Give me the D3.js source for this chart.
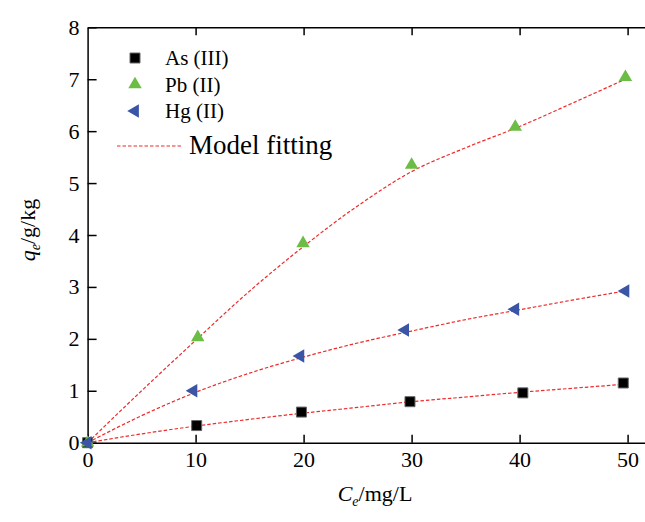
<!DOCTYPE html>
<html>
<head>
<meta charset="utf-8">
<script src="https://cdn.jsdelivr.net/npm/d3@7"></script>
<style>
  body { margin: 0; background: #fff; }
  svg text { font-family: 'Liberation Serif', 'Times New Roman', Times, serif; }
</style>
</head>
<body>
<div id="chart"></div>
<script>
// measured points (Ce in mg/L, qe in g/kg)
let asX = [0, 10.1, 19.8, 29.85, 40.3, 49.6];
let asY = [0, 0.33, 0.59, 0.79, 0.96, 1.15];
let pbX = [0, 10.2, 19.95, 30.0, 39.6, 49.8];
let pbY = [0, 2.03, 3.84, 5.35, 6.08, 7.04];
let hgX = [0, 9.8, 19.7, 29.4, 39.6, 49.8];
let hgY = [0, 1.0, 1.67, 2.17, 2.57, 2.92];

// model fitting curves
let fitX = [0, 5, 10, 15, 20, 25, 30, 35, 40, 45, 50];
let asFit = [0, 0.17, 0.32, 0.45, 0.57, 0.68, 0.79, 0.88, 0.97, 1.05, 1.13];
let pbFit = [0, 1.0, 1.97, 2.92, 3.78, 4.56, 5.22, 5.68, 6.09, 6.55, 7.02];
let hgFit = [0, 0.52, 0.97, 1.34, 1.65, 1.92, 2.15, 2.37, 2.56, 2.75, 2.93];

let xTicks = [0, 10, 20, 30, 40, 50];
let yTicks = [0, 1, 2, 3, 4, 5, 6, 7, 8];
let legendNames = ["As (III)", "Pb (II)", "Hg (II)"];

let serif = "'Liberation Serif', 'Times New Roman', Times, serif";
let width = 645, height = 522;
let svg = d3.select("#chart").append("svg")
  .attr("width", width).attr("height", height)
  .attr("font-family", serif);

let x = d3.scaleLinear().domain([0, 52]).range([87.6, 87.6 + 52 * 10.8]);
let y = d3.scaleLinear().domain([0, 8]).range([442.7, 27.3]);

// axes
let axisStyle = g => {
  g.attr("font-family", serif).attr("font-size", 22);
  g.selectAll("path, line").attr("stroke", "#000").attr("stroke-width", 1.5);
  g.selectAll("text").attr("fill", "#000");
};

svg.append("g")
  .attr("transform", `translate(0,${y(0)})`)
  .call(d3.axisBottom(x).tickValues(xTicks).tickFormat(d3.format("d"))
    .tickSizeInner(-8).tickSizeOuter(0).tickPadding(9))
  .call(axisStyle);

svg.append("g")
  .attr("transform", `translate(0,${y(8)})`)
  .call(d3.axisTop(x).tickValues(xTicks.slice(1)).tickFormat("")
    .tickSizeInner(-8).tickSizeOuter(0))
  .call(axisStyle);

svg.append("g")
  .attr("transform", `translate(${x(0)},0)`)
  .call(d3.axisLeft(y).tickValues(yTicks).tickFormat(d3.format("d"))
    .tickSizeInner(-9).tickSizeOuter(0).tickPadding(8))
  .call(axisStyle);

// fit lines
let fitLine = d3.line()
  .x((d, i) => x(fitX[i]))
  .y(d => y(d))
  .curve(d3.curveMonotoneX);

[asFit, pbFit, hgFit].forEach(f => {
  svg.append("path")
    .attr("d", fitLine(f))
    .attr("fill", "none")
    .attr("stroke", "#ee2a2a")
    .attr("stroke-width", 1.2)
    .attr("stroke-dasharray", "3.5,2");
});

// markers
let tri = d3.symbol().type(d3.symbolTriangle).size(78);
let sq = d3.symbol().type(d3.symbolSquare).size(100);

let series = [
  { xs: asX, ys: asY, shape: sq, fill: "#000", stroke: "#666", rot: 0 },
  { xs: pbX, ys: pbY, shape: tri, fill: "#6bbd45", stroke: "none", rot: 0 },
  { xs: hgX, ys: hgY, shape: tri, fill: "#3a55a6", stroke: "none", rot: -90 }
];

series.forEach(s => {
  svg.append("g").selectAll("path")
    .data(s.ys)
    .enter().append("path")
    .attr("d", s.shape)
    .attr("transform", (d, i) => `translate(${x(s.xs[i])},${y(d)}) rotate(${s.rot})`)
    .attr("fill", s.fill)
    .attr("stroke", s.stroke)
    .attr("stroke-width", 1);
});

// legend
let legend = svg.append("g");
series.forEach((s, i) => {
  let ly = 58 + i * 26.5;
  legend.append("path")
    .attr("d", s.shape)
    .attr("transform", `translate(135,${ly}) rotate(${s.rot})`)
    .attr("fill", s.fill)
    .attr("stroke", s.stroke);
  legend.append("text")
    .attr("x", 165).attr("y", ly + 7)
    .attr("font-size", 21)
    .text(legendNames[i]);
});
legend.append("line")
  .attr("x1", 117).attr("x2", 182).attr("y1", 146).attr("y2", 146)
  .attr("stroke", "#ee2a2a").attr("stroke-width", 1.2)
  .attr("stroke-dasharray", "3.5,2");
legend.append("text")
  .attr("x", 189).attr("y", 154)
  .attr("font-size", 27)
  .text("Model fitting");

// axis titles
let xt = svg.append("text")
  .attr("x", 375).attr("y", 501)
  .attr("text-anchor", "middle")
  .attr("font-size", 22);
xt.append("tspan").attr("font-style", "italic").text("C");
xt.append("tspan").attr("font-style", "italic").attr("font-size", 14)
  .attr("dy", 5).text("e");
xt.append("tspan").attr("dy", -5).text("/mg/L");

let yt = svg.append("text")
  .attr("transform", "translate(35,230) rotate(-90)")
  .attr("text-anchor", "middle")
  .attr("font-size", 22);
yt.append("tspan").attr("font-style", "italic").text("q");
yt.append("tspan").attr("font-style", "italic").attr("font-size", 14)
  .attr("dy", 5).text("e");
yt.append("tspan").attr("dy", -5).text("/g/kg");
</script>
</body>
</html>
